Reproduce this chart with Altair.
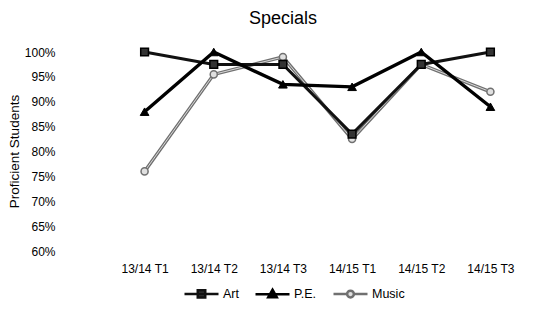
import altair as alt
import pandas as pd

terms = ["13/14 T1", "13/14 T2", "13/14 T3", "14/15 T1", "14/15 T2", "14/15 T3"]
series = ["Art", "P.E.", "Music"]
art = [100, 97.5, 97.5, 83.5, 97.5, 100]
pe = [88, 100, 93.5, 93, 100, 89]
music = [76, 95.5, 99, 82.5, 97.5, 92]
y_ticks = [60, 65, 70, 75, 80, 85, 90, 95, 100]

rows = []
for name, vals in zip(series, [art, pe, music]):
    for t, v in zip(terms, vals):
        rows.append({"term": t, "value": v, "series": name})
df = pd.DataFrame(rows)

FONT = "Liberation Sans"

x_enc = alt.X("term:N", sort=terms, title=None,
              scale=alt.Scale(type="point", range=[42, 457]),
              axis=alt.Axis(labelAngle=0, ticks=False, domain=False, grid=False,
                            labelPadding=12, labelFontSize=12, labelColor="#000",
                            labelFont=FONT, labelBaseline="top"))
y_enc = alt.Y("value:Q", title="Proficient Students",
              scale=alt.Scale(domain=[60, 100], nice=False, zero=False),
              axis=alt.Axis(values=y_ticks, labelExpr="datum.value + '%'",
                            ticks=False, domain=False, grid=False,
                            labelPadding=13, labelFontSize=12, labelColor="#000",
                            labelFont=FONT, titleFont=FONT, titleFontSize=13.5,
                            titleFontWeight="normal", titleColor="#000",
                            titleAngle=270, titleX=-54, titleY=99,
                            titleBaseline="middle", titleAlign="center"))

base = alt.Chart(df).encode(x=x_enc, y=y_enc)


def sub(name):
    return base.transform_filter(alt.datum.series == name)


art_line = sub("Art").mark_line(color="#111", strokeWidth=3)
pe_line = sub("P.E.").mark_line(color="#000", strokeWidth=3.4)
music_line = sub("Music").mark_line(color="#707070", strokeWidth=3.4)
music_core = sub("Music").mark_line(color="#d8d8d8", strokeWidth=1.0)

art_pts = sub("Art").mark_point(shape="square", size=60, filled=True, fill="#333",
                                stroke="#000", strokeWidth=1.5, opacity=1)
pe_pts = sub("P.E.").mark_point(shape="triangle-up", size=75, filled=True,
                                fill="#000", stroke="#000", strokeWidth=1, opacity=1)
music_pts = sub("Music").mark_point(shape="circle", size=50, filled=True,
                                   fill="#e0e0e0", stroke="#707070", strokeWidth=1.5,
                                   opacity=1)

paths = [
    "M-1,0H1M-0.22,-0.22H0.22V0.22H-0.22Z",
    "M-1,0H1M0,-0.27L0.25,0.17H-0.25Z",
    "M-1,0H-0.2M0.2,0H1M0.2,0A0.2,0.2 0 1,1 -0.2,0A0.2,0.2 0 1,1 0.2,0",
]
legend_layer = base.mark_point(size=1, opacity=0, filled=True, strokeWidth=2.5).encode(
    shape=alt.Shape("series:N", title=None,
                    scale=alt.Scale(domain=series, range=paths)),
    stroke=alt.Stroke("series:N", title=None,
                      scale=alt.Scale(domain=series, range=["#111", "#000", "#707070"])),
    fill=alt.Fill("series:N", title=None,
                  scale=alt.Scale(domain=series, range=["#333", "#000", "#e0e0e0"])),
)

chart = alt.layer(
    legend_layer, music_line, music_core, art_line, pe_line,
    music_pts, art_pts, pe_pts,
).properties(
    width=482, height=199,
    title=alt.TitleParams("Specials", fontSize=18, font=FONT, fontWeight="normal",
                          color="#000", anchor="middle", dx=-26, offset=3,
                          baseline="alphabetic", frame="group"),
    autosize=alt.AutoSizeParams(type="none"),
    padding={"left": 60, "top": 44, "right": 0, "bottom": 50},
).configure_view(stroke=None).configure_legend(
    orient="none", legendX=115, legendY=223, direction="horizontal",
    symbolSize=1156, symbolOpacity=1, symbolStrokeWidth=2.5,
    labelFont=FONT, labelFontSize=12.5, labelColor="#000", labelOffset=3,
    columnPadding=11, padding=0, titlePadding=0,
)

chart.save("out.html", embed_options={"renderer": "svg", "actions": False})
